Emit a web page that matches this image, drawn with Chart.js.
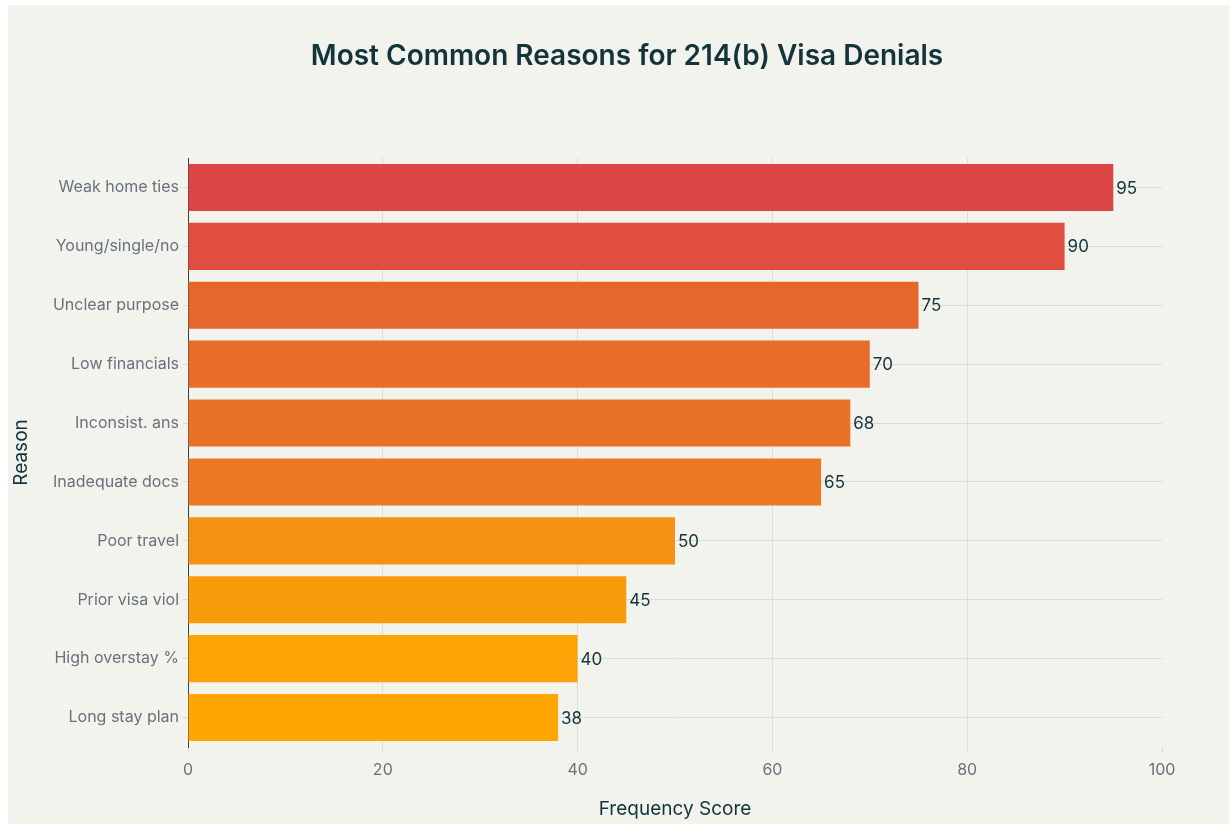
<!DOCTYPE html>
<html>
<head>
<meta charset="utf-8">
<script src="https://cdn.jsdelivr.net/npm/chart.js@4"></script>
<style>
  html, body { margin: 0; padding: 0; background: #ffffff; }
  #wrap { position: absolute; left: 8px; top: 5px; width: 1221px; height: 819px; background: #f3f3ee; }
  canvas { display: block; }
</style>
</head>
<body>
<div id="wrap"><canvas id="c" width="1221" height="819"></canvas></div>
<script>
const chartTitle = "Most Common Reasons for 214(b) Visa Denials";
const categories = ["Weak home ties", "Young/single/no", "Unclear purpose", "Low financials", "Inconsist. ans", "Inadequate docs", "Poor travel", "Prior visa viol", "High overstay %", "Long stay plan"];
const scores = [95, 90, 75, 70, 68, 65, 50, 45, 40, 38];
const barColors = ["#db4545", "#df4e3f", "#e5672e", "#e86d2a", "#ea7227", "#ed7823", "#f59216", "#f89c0c", "#fca405", "#ffa602"];
const xTicks = [0, 20, 40, 60, 80, 100];

const FONT = "Inter, 'Noto Sans', 'DejaVu Sans', sans-serif";

const valueLabels = {
  id: 'valueLabels',
  afterDatasetsDraw(chart) {
    const ctx = chart.ctx;
    const meta = chart.getDatasetMeta(0);
    ctx.save();
    ctx.font = "17px " + FONT;
    ctx.fillStyle = "#13343b";
    ctx.textAlign = "left";
    ctx.textBaseline = "middle";
    meta.data.forEach((bar, i) => {
      ctx.fillText(String(scores[i]), bar.x + 3, bar.y + 1);
    });
    ctx.restore();
  }
};

const titleDraw = {
  id: 'titleDraw',
  afterDraw(chart) {
    const ctx = chart.ctx;
    ctx.save();
    ctx.font = "600 28px " + FONT;
    ctx.fillStyle = "#13343b";
    ctx.textAlign = "center";
    ctx.textBaseline = "middle";
    ctx.fillText(chartTitle, 619, 52);
    ctx.restore();
  }
};

new Chart(document.getElementById('c'), {
  type: 'bar',
  data: {
    labels: categories,
    datasets: [{
      data: scores,
      backgroundColor: barColors,
      borderWidth: 0,
      categoryPercentage: 1.0,
      barPercentage: 0.8
    }]
  },
  options: {
    indexAxis: 'y',
    responsive: false,
    animation: false,
    devicePixelRatio: 1,
    layout: { padding: { left: 0, right: 67, top: 153, bottom: 0 } },
    plugins: {
      legend: { display: false },
      tooltip: { enabled: false },
      title: { display: false }
    },
    scales: {
      x: {
        type: 'linear',
        min: 0,
        max: 100,
        afterBuildTicks(scale) { scale.ticks = xTicks.map(v => ({ value: v })); },
        afterFit(scale) { scale.height = 77; },
        grid: {
          color: (ctx) => (ctx.tick && (ctx.tick.value === 100 || ctx.tick.value === 0)) ? 'rgba(0,0,0,0)' : '#dcddd7',
          tickColor: '#dcddd7',
          tickLength: 6,
          drawTicks: true
        },
        border: { display: false },
        ticks: {
          color: "#67727a",
          font: { family: FONT, size: 16 },
          padding: 8
        },
        title: {
          display: true,
          text: "Frequency Score",
          color: "#13343b",
          font: { family: FONT, size: 19 },
          padding: { top: 0, bottom: 3 }
        }
      },
      y: {
        type: 'category',
        offset: true,
        afterFit(scale) { scale.width = 180; },
        grid: {
          offset: false,
          color: '#dcddd7',
          tickColor: '#dcddd7',
          tickLength: 5
        },
        border: { display: true, color: '#3a3f44', width: 1 },
        ticks: {
          color: "#67727a",
          font: { family: FONT, size: 16 },
          padding: 4
        },
        title: {
          display: true,
          text: "Reason",
          color: "#13343b",
          font: { family: FONT, size: 19 },
          padding: { top: 2, bottom: 0 }
        }
      }
    }
  },
  plugins: [valueLabels, titleDraw]
});
</script>
</body>
</html>
